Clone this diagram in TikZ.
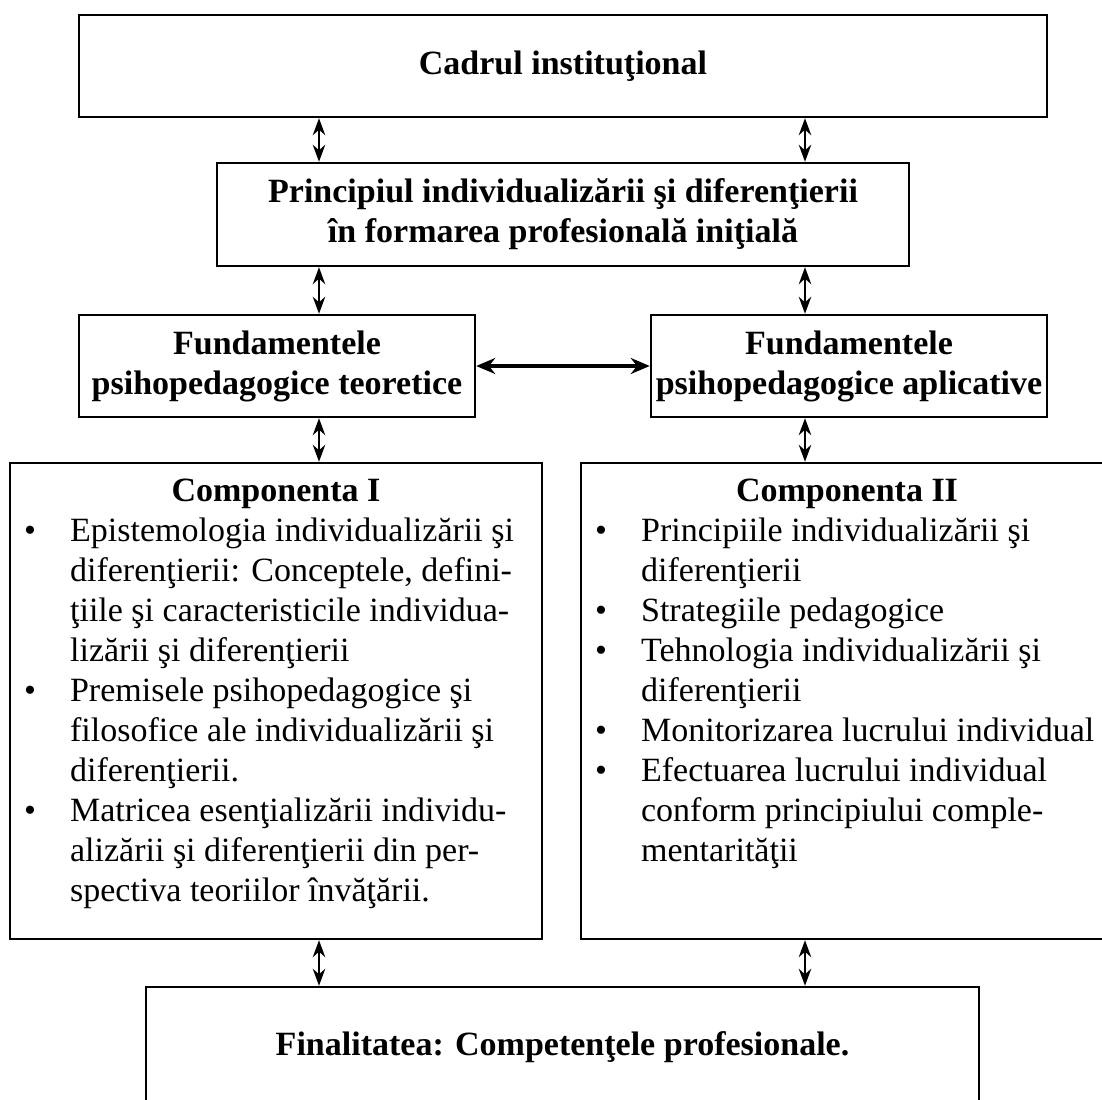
\documentclass[tikz,border=0pt]{standalone}
\usepackage{fontspec}
\setmainfont{Liberation Serif}
\usepackage{tikz}
\usetikzlibrary{positioning,arrows.meta}

\newcommand{\diagfont}{\fontsize{19.35}{22.76}\selectfont}

\begin{document}
\begin{tikzpicture}[
  blk/.style={draw, line width=1.4pt, inner sep=0pt, align=center,
              font=\diagfont\bfseries},
  arr/.style={{Stealth[length=0.34cm,width=0.25cm]}-{Stealth[length=0.34cm,width=0.25cm]}, line width=1pt},
  harr/.style={{Stealth[length=0.38cm,width=0.32cm]}-{Stealth[length=0.38cm,width=0.32cm]}, line width=1.8pt},
  head/.style={anchor=base, font=\diagfont\bfseries},
  list/.style={anchor=base west, inner sep=0pt, font=\diagfont}
]
  \useasboundingbox (0,0) rectangle (22.04,-22);
  \clip (0,0) rectangle (22.04,-22);
  \fill[white] (0,0) rectangle (22.04,-22);

  % Boxes
  \node[blk, minimum width=19.36cm, minimum height=2.04cm] (cadru) at (11.26,-1.32) {Cadrul instituţional};
  \node[blk, minimum width=13.84cm, minimum height=2.06cm] (princ) at (11.26,-4.29)
    {Principiul individualizării şi diferenţierii\\în formarea profesională iniţială};
  \node[blk, minimum width=7.92cm, minimum height=2.04cm] (fundT) at (5.54,-7.32)
    {Fundamentele\\psihopedagogice teoretice};
  \node[blk, minimum width=7.92cm, minimum height=2.04cm] (fundA) at (16.98,-7.32)
    {Fundamentele\\psihopedagogice aplicative};
  \node[blk, minimum width=10.64cm, minimum height=9.52cm] (compI) at (5.52,-14.02) {};
  \node[blk, minimum width=10.64cm, minimum height=9.52cm] (compII) at (16.94,-14.02) {};
  \node[blk, minimum width=16.66cm, minimum height=2.4cm] (final) at (11.25,-20.94)
    {Finalitatea: Competenţele profesionale.};

  % Component contents
  \node[head] (compIhead) at ([yshift=-0.8cm]compI.north) {Componenta I};
  \node[list] (compIlist) at ([xshift=0.3cm, yshift=-1.6cm]compI.north west) {%
    \begin{tabular}[t]{@{}p{0.92cm}@{}l@{}}
      \textbullet & Epistemologia individualizării şi\\
                  & diferenţierii: Conceptele, defini-\\
                  & ţiile şi caracteristicile individua-\\
                  & lizării şi diferenţierii\\
      \textbullet & Premisele psihopedagogice şi\\
                  & filosofice ale individualizării şi\\
                  & diferenţierii.\\
      \textbullet & Matricea esenţializării individu-\\
                  & alizării şi diferenţierii din per-\\
                  & spectiva teoriilor învăţării.
    \end{tabular}};

  \node[head] (compIIhead) at ([yshift=-0.8cm]compII.north) {Componenta II};
  \node[list] (compIIlist) at ([xshift=0.3cm, yshift=-1.6cm]compII.north west) {%
    \begin{tabular}[t]{@{}p{0.92cm}@{}l@{}}
      \textbullet & Principiile individualizării şi\\
                  & diferenţierii\\
      \textbullet & Strategiile pedagogice\\
      \textbullet & Tehnologia individualizării şi\\
                  & diferenţierii\\
      \textbullet & Monitorizarea lucrului individual\\
      \textbullet & Efectuarea lucrului individual\\
                  & conform principiului comple-\\
                  & mentarităţii
    \end{tabular}};

  % Arrows
  \coordinate (xl) at (6.38,0);
  \coordinate (xr) at (16.1,0);
  \draw[arr] (cadru.south -| xl) -- (princ.north -| xl);
  \draw[arr] (cadru.south -| xr) -- (princ.north -| xr);
  \draw[arr] (princ.south -| xl) -- (fundT.north -| xl);
  \draw[arr] (princ.south -| xr) -- (fundA.north -| xr);
  \draw[harr] (fundT) -- (fundA);
  \draw[arr] (fundT.south -| xl) -- (compI.north -| xl);
  \draw[arr] (fundA.south -| xr) -- (compII.north -| xr);
  \draw[arr] (compI.south -| xl) -- (final.north -| xl);
  \draw[arr] (compII.south -| xr) -- (final.north -| xr);
\end{tikzpicture}
\end{document}
